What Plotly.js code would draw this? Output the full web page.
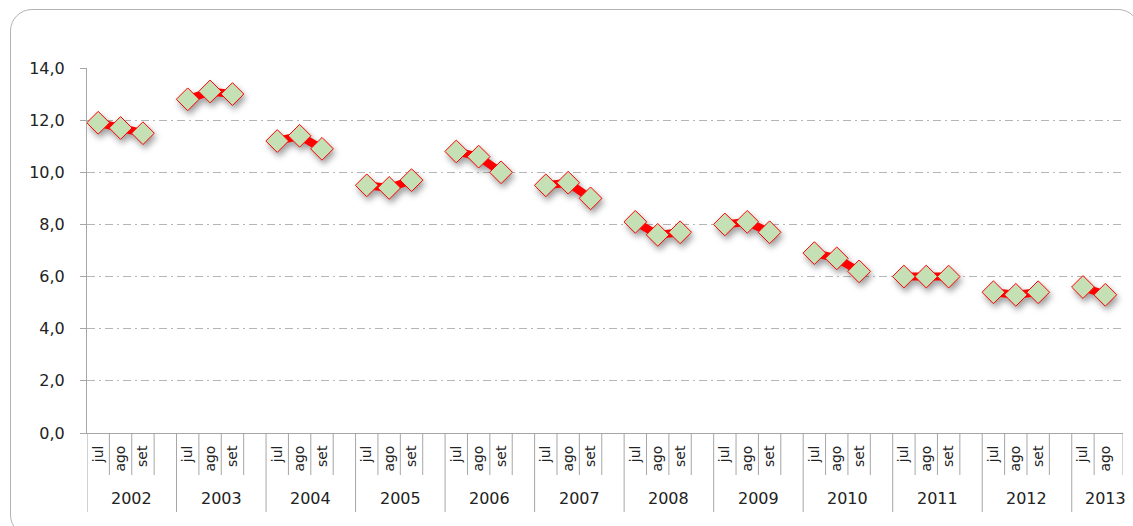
<!DOCTYPE html>
<html>
<head>
<meta charset="utf-8">
<script src="https://cdn.plot.ly/plotly-3.0.1.min.js"></script>
<style>
html,body{margin:0;padding:0;width:1133px;height:526px;overflow:hidden;background:#fff;}
#frame{position:absolute;left:10px;top:9px;width:1130px;height:528px;border:1px solid #b3b3b3;border-radius:22px;box-sizing:border-box;}
#chart{position:absolute;left:0;top:0;width:1133px;height:526px;}
.scatterlayer .trace{filter:drop-shadow(2px 4px 3px rgba(0,0,0,0.38));}
</style>
</head>
<body>
<div id="frame"></div>
<div id="chart"></div>
<script>
// Data
const years = ['2002','2003','2004','2005','2006','2007','2008','2009','2010','2011','2012','2013'];
const months = ['jul','ago','set'];
const julValues = [11.9, 12.8, 11.2, 9.5, 10.8, 9.5, 8.1, 8.0, 6.9, 6.0, 5.4, 5.6];
const agoValues = [11.7, 13.1, 11.4, 9.4, 10.6, 9.6, 7.6, 8.1, 6.7, 6.0, 5.3, 5.3];
const setValues = [11.5, 13.0, 10.9, 9.7, 10.0, 9.0, 7.7, 7.7, 6.2, 6.0, 5.4, null];
const yTickVals = [0, 2, 4, 6, 8, 10, 12, 14];
const yTickText = ['0,0','2,0','4,0','6,0','8,0','10,0','12,0','14,0'];

const series = [julValues, agoValues, setValues];
const xCats = [], yVals = [], tickVals = [], tickText = [];
const groupStarts = [], groupCounts = [];
years.forEach((yr, yi) => {
  groupStarts.push(xCats.length);
  let count = 0;
  months.forEach((m, mi) => {
    const v = series[mi][yi];
    if (v === null) return;
    const id = yr + ' ' + m;
    xCats.push(id); yVals.push(v); tickVals.push(id); tickText.push(m);
    count++;
  });
  if (yi < years.length - 1) {
    const id = yr + ' -';
    xCats.push(id); yVals.push(null); tickVals.push(id); tickText.push('');
    count++;
  }
  groupCounts.push(count);
});

const xEnd = xCats.length - 0.5 + 0.29;
const shortY = -42 / 365, longY = -79 / 365;
const shapes = [];
const annotations = [];
groupStarts.forEach((s, gi) => {
  shapes.push({type:'line', xref:'x', yref:'paper', x0:s-0.5, x1:s-0.5, y0:0, y1:longY,
    line:{color:'#a6a6a6', width:1}});
  const n = groupCounts[gi];
  for (let k = 1; k < n; k++) {
    shapes.push({type:'line', xref:'x', yref:'paper', x0:s+k-0.5, x1:s+k-0.5, y0:0, y1:shortY,
      line:{color:'#a6a6a6', width:1}});
  }
  const center = (gi < years.length - 1) ? s + 1.5 : s + 1.0;
  annotations.push({xref:'x', yref:'paper', x:center, y:-65/365, yanchor:'middle', xanchor:'center',
    text:years[gi], showarrow:false, font:{family:'DejaVu Sans', size:16, color:'#222'}});
});
shapes.push({type:'line', xref:'x', yref:'paper', x0:xEnd, x1:xEnd, y0:0, y1:shortY,
  line:{color:'#a6a6a6', width:1}});

const trace = {
  type:'scatter', mode:'lines+markers', x:xCats, y:yVals, connectgaps:false,
  line:{color:'#ff0000', width:8},
  marker:{symbol:'diamond', size:17.5, color:'#c5e0b4', line:{color:'#ff0000', width:1}},
  hoverinfo:'x+y'
};

const layout = {
  width:1133, height:526,
  margin:{l:87, r:10, t:68, b:93},
  paper_bgcolor:'rgba(0,0,0,0)', plot_bgcolor:'rgba(0,0,0,0)',
  showlegend:false,
  xaxis:{type:'category', categoryorder:'array', categoryarray:xCats,
    range:[-0.5, xEnd], tickmode:'array', tickvals:tickVals, ticktext:tickText,
    tickangle:-90, ticks:'', showgrid:false, zeroline:false,
    showline:true, linecolor:'#a6a6a6', linewidth:1, ticklabelstandoff:6,
    tickfont:{family:'DejaVu Sans', size:14, color:'#222'}},
  yaxis:{range:[0,14], tickmode:'array', tickvals:yTickVals, ticktext:yTickText,
    showline:true, linecolor:'#a6a6a6', linewidth:1, ticks:'outside', ticklen:6, tickcolor:'#a6a6a6',
    showgrid:true, gridcolor:'#b5b5b5', gridwidth:1, griddash:'8px,4px,2px,4px',
    zeroline:false, ticklabelstandoff:12,
    tickfont:{family:'DejaVu Sans', size:16, color:'#222'}},
  shapes:shapes, annotations:annotations
};

Plotly.newPlot('chart', [trace], layout, {displayModeBar:false, staticPlot:true});
</script>
</body>
</html>
